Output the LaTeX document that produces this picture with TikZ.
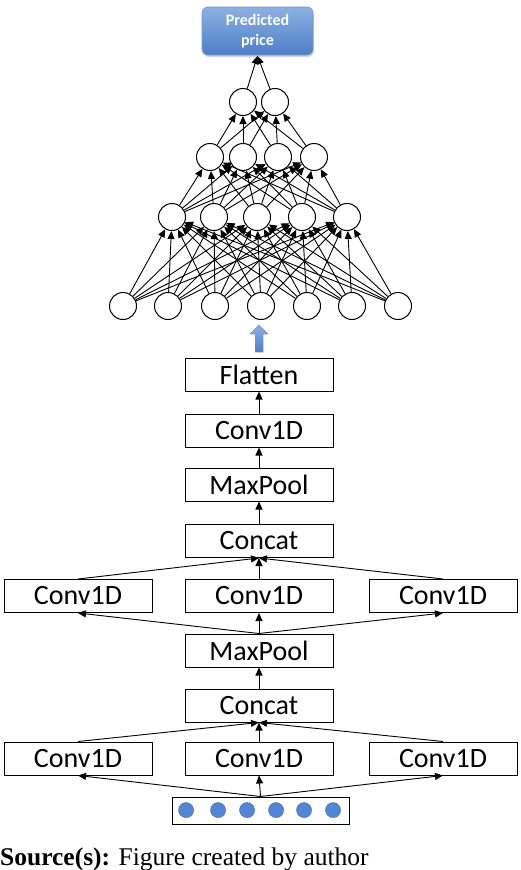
\documentclass[tikz,border=0pt]{standalone}
\usepackage{fontspec}
\setmainfont{Liberation Serif}
\newfontfamily\calfont{Carlito}
\usetikzlibrary{arrows.meta,shadows}
\definecolor{boxtop}{RGB}{140,176,226}
\definecolor{boxbot}{RGB}{78,126,200}
\definecolor{dotblue}{RGB}{84,132,212}
\begin{document}
\begin{tikzpicture}[x=1pt,y=-1pt,
  layerbox/.style={draw, line width=1pt, minimum width=148pt, minimum height=33pt, inner sep=0pt, font=\calfont\fontsize{28}{30}\selectfont},
  neuron/.style={circle, draw, line width=1pt, minimum size=27pt, inner sep=0pt, fill=white},
  arr/.style={-{Triangle[length=8pt,width=7pt]}, line width=0.9pt},
  outbox/.style={rounded corners=6pt, minimum width=111pt, minimum height=48pt, inner sep=0pt,
    top color=boxtop, bottom color=boxbot, draw=boxbot!80!white, line width=0.6pt,
    drop shadow={shadow xshift=1pt, shadow yshift=-2pt, opacity=0.35},
    text=white, align=center, font=\calfont\bfseries\fontsize{16}{20}\selectfont},
  dot/.style={circle, fill=dotblue, draw=dotblue!80!black, line width=0.4pt, minimum size=15pt, inner sep=0pt,
    drop shadow={shadow xshift=0.8pt, shadow yshift=-0.8pt, opacity=0.3}}
]
\useasboundingbox (0,0) rectangle (520,870);

% output box
\node[outbox] (out) at (257.5,31) {Predicted\\price};

% neurons
\foreach \x [count=\i] in {123,168,215,261,307,352,398} \node[neuron] (a\i) at (\x,306) {};
\foreach \x [count=\i] in {172,214,257,302,347} \node[neuron] (b\i) at (\x,217) {};
\foreach \x [count=\i] in {210,243,278,314} \node[neuron] (c\i) at (\x,157) {};
\foreach \x [count=\i] in {243,275} \node[neuron] (d\i) at (\x,102) {};

\foreach \i in {1,...,7} \foreach \j in {1,...,5} \draw[arr] (a\i) -- (b\j);
\foreach \i in {1,...,5} \foreach \j in {1,...,4} \draw[arr] (b\i) -- (c\j);
\foreach \i in {1,...,4} \foreach \j in {1,2} \draw[arr] (c\i) -- (d\j);
\coordinate (outin) at (257.5,56);
\draw[arr] (d1) -- (outin);
\draw[arr] (d2) -- (outin);

% blue block arrow
\fill[top color=boxtop, bottom color=boxbot] (255,352) -- (263,352) -- (263,334) -- (268,334) -- (259,325) -- (250,334) -- (255,334) -- cycle;

% layer stack
\node[layerbox] (flat) at (259,374.5) {Flatten};
\node[layerbox] (conv3) at (259,430.5) {Conv1D};
\node[layerbox] (pool2) at (259,484.5) {MaxPool};
\node[layerbox] (cat2) at (259,541) {Concat};
\node[layerbox] (c2l) at (78,596) {Conv1D};
\node[layerbox] (c2m) at (259,596) {Conv1D};
\node[layerbox] (c2r) at (443,596) {Conv1D};
\node[layerbox] (pool1) at (259,650.5) {MaxPool};
\node[layerbox] (cat1) at (259,705.5) {Concat};
\node[layerbox] (c1l) at (78,758.5) {Conv1D};
\node[layerbox] (c1m) at (259,758.5) {Conv1D};
\node[layerbox] (c1r) at (443,758.5) {Conv1D};
\node[draw, line width=1pt, minimum width=177pt, minimum height=27pt, inner sep=0pt] (inp) at (260.5,810.5) {};
\foreach \x [count=\i] in {186,218,247,276,304,333} \node[dot] (p\i) at (\x,810) {};

\draw[arr] (conv3) -- (flat);
\draw[arr] (pool2) -- (conv3);
\draw[arr] (cat2) -- (pool2);
\draw[arr] (c2l.north) -- (cat2.south);
\draw[arr] (c2m.north) -- (cat2.south);
\draw[arr] (c2r.north) -- (cat2.south);
\draw[arr] (pool1.north) -- (c2l.south);
\draw[arr] (pool1.north) -- (c2m.south);
\draw[arr] (pool1.north) -- (c2r.south);
\draw[arr] (cat1) -- (pool1);
\draw[arr] (c1l.north) -- (cat1.south);
\draw[arr] (c1m.north) -- (cat1.south);
\draw[arr] (c1r.north) -- (cat1.south);
\draw[arr] (inp.north) -- (c1l.south);
\draw[arr] (inp.north) -- (c1m.south);
\draw[arr] (inp.north) -- (c1r.south);

% source line
\node[anchor=base west, inner sep=0pt, font=\fontsize{25.5}{28}\selectfont] (src) at (0,865) {\textbf{Source(s):} Figure created by author};
\end{tikzpicture}
\end{document}
